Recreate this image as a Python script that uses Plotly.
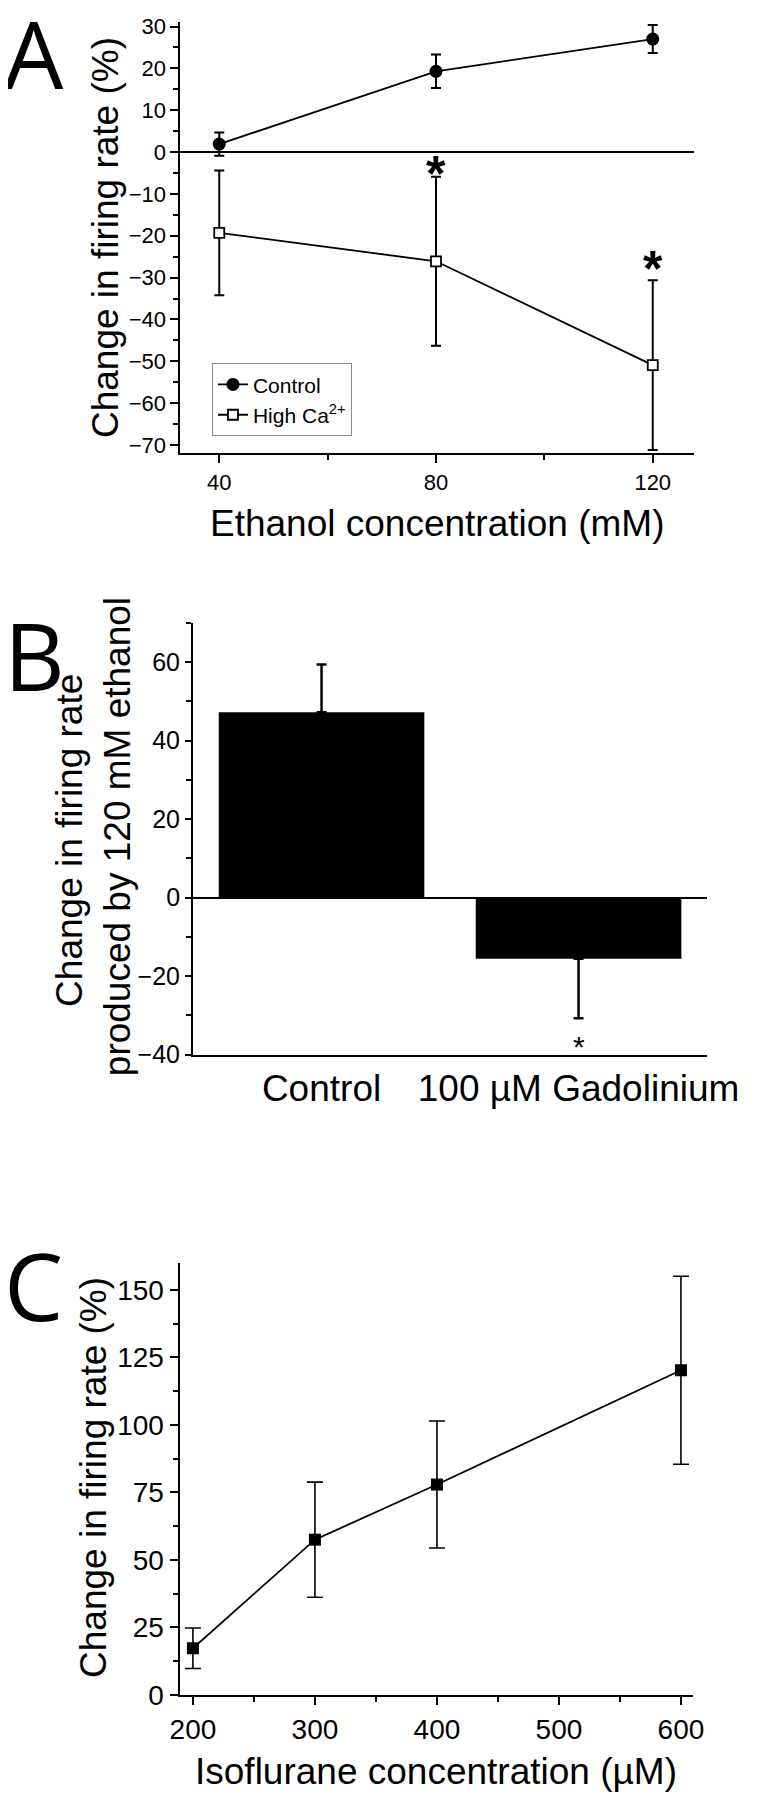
import plotly.graph_objects as go

# ---- Panel A: ethanol, control vs high Ca2+ ----
ethanol_mM = [40, 80, 120]
control_pct = [1.9, 19.3, 27.0]
control_err = [2.75, 4.0, 3.35]
highca_pct = [-19.3, -26.1, -50.9]
highca_err = [14.9, 20.2, 20.3]
star_a_x = [80, 120]
star_a_y = [-3.4, -26.1]

# ---- Panel B: 120 mM ethanol, gadolinium ----
groups = ["Control", "100 µM Gadolinium"]
gd_change = [47.2, -15.6]
gd_err_up = [12.2, 0]
gd_err_down = [0, 15.1]
star_b_y = -36.4

# ---- Panel C: isoflurane ----
iso_uM = [200, 300, 400, 600]
iso_pct = [17.3, 57.5, 77.9, 120.2]
iso_err = [7.5, 21.3, 23.5, 34.8]

FONT = "Liberation Sans, Arial, sans-serif"
W, H = 761, 1800

fig = go.Figure()

# A
fig.add_trace(go.Scatter(
    x=ethanol_mM, y=control_pct, name="Control", mode="lines+markers",
    line=dict(color="black", width=1.8),
    marker=dict(symbol="circle", size=13, color="black"),
    error_y=dict(type="data", array=control_err, color="black", thickness=2, width=5),
    xaxis="x", yaxis="y"))
fig.add_trace(go.Scatter(
    x=ethanol_mM, y=highca_pct, name="High Ca<sup>2+</sup>", mode="lines+markers",
    line=dict(color="black", width=1.8),
    marker=dict(symbol="square", size=10, color="white", line=dict(color="black", width=1.8)),
    error_y=dict(type="data", array=highca_err, color="black", thickness=2, width=5),
    xaxis="x", yaxis="y"))

# B
fig.add_trace(go.Bar(
    x=groups, y=gd_change, width=0.8, marker=dict(color="black", line=dict(width=0)),
    error_y=dict(type="data", symmetric=False, array=gd_err_up, arrayminus=gd_err_down,
                 color="black", thickness=2.5, width=5),
    showlegend=False, xaxis="x2", yaxis="y2"))

# C
fig.add_trace(go.Scatter(
    x=iso_uM, y=iso_pct, mode="lines+markers",
    line=dict(color="black", width=1.8),
    marker=dict(symbol="square", size=12, color="black"),
    error_y=dict(type="data", array=iso_err, color="black", thickness=1.6, width=8),
    showlegend=False, xaxis="x3", yaxis="y3"))


def ax(**kw):
    d = dict(showline=True, linecolor="black", linewidth=2, ticks="outside",
             ticklen=8, tickwidth=2, tickcolor="black", showgrid=False,
             zeroline=False, color="black", ticklabeloverflow="allow")
    d.update(kw)
    return d


def px_x(a, b):
    return [a / W, b / W]


def px_y(top, bottom):
    return [1 - bottom / H, 1 - top / H]


minor_ticks = dict(ticklen=5, tickwidth=2, ticks="outside", tickcolor="black")

fig.update_layout(
    width=W, height=H, margin=dict(l=0, r=0, t=0, b=0),
    paper_bgcolor="white", plot_bgcolor="white",
    font=dict(family=FONT, color="black"),
    xaxis=ax(domain=px_x(171.7, 715), anchor="y", range=[32.84, 127.7],
             tickvals=[40, 80, 120], tickfont=dict(size=22),
             minor=dict(tickvals=[60, 100], **minor_ticks)),
    yaxis=ax(domain=px_y(6, 443.3), anchor="x", range=[-72, 31.1],
             dtick=10, tickfont=dict(size=22),
             zeroline=True, zerolinecolor="black", zerolinewidth=2,
             minor=dict(dtick=5, **minor_ticks)),
    xaxis2=ax(domain=px_x(185, 728.3), anchor="y2", type="category", range=[-0.5, 1.5],
              ticks="", tickfont=dict(size=37)),
    yaxis2=ax(domain=px_y(615, 1052.7), anchor="x2", range=[-40, 70],
              dtick=20, tickfont=dict(size=25), ticklen=6,
              zeroline=True, zerolinecolor="black", zerolinewidth=2,
              minor=dict(dtick=10, **minor_ticks)),
    xaxis3=ax(domain=px_x(170.7, 713.6), anchor="y3", range=[189, 610],
              dtick=100, tickfont=dict(size=28),
              minor=dict(dtick=50, **minor_ticks)),
    yaxis3=ax(domain=px_y(1263.6, 1701.7), anchor="x3", range=[0, 160],
              dtick=25, tickfont=dict(size=28),
              minor=dict(dtick=12.5, **minor_ticks)),
    legend=dict(x=205 / W, y=1 - 352 / H, xanchor="left", yanchor="top",
                bordercolor="#888888", borderwidth=1, bgcolor="white",
                font=dict(size=21, family=FONT), tracegroupgap=0),
)

annots = []
# panel letters
for letter, yc in [("A", 38), ("B", 648), ("C", 1286)]:
    annots.append(dict(text=letter, x=-16 / W, y=1 - yc / H, xref="paper", yref="paper",
                       xanchor="left", yanchor="middle", showarrow=False, borderpad=0,
                       font=dict(family="Open Sans", size=94, color="black")))
# axis titles
title_font = dict(family=FONT, size=37, color="black")
annots += [
    dict(text="Change in firing rate (%)", x=92 / W, y=1 - 225 / H, textangle=-90),
    dict(text="Ethanol concentration (mM)", x=443 / W, y=1 - 514 / H),
    dict(text="Change in firing rate", x=55 / W, y=1 - 836 / H, textangle=-90),
    dict(text="produced by 120 mM ethanol", x=106 / W, y=1 - 832 / H, textangle=-90),
    dict(text="Change in firing rate (%)", x=80 / W, y=1 - 1481 / H, textangle=-90),
    dict(text="Isoflurane concentration (µM)", x=442 / W, y=1 - 1779 / H),
]
for a in annots[3:]:
    a.update(xref="paper", yref="paper", xanchor="center", yanchor="middle",
             showarrow=False, font=title_font)
# significance stars
for sx, sy in zip(star_a_x, star_a_y):
    annots.append(dict(text="<b>*</b>", x=sx, y=sy, xref="x", yref="y", showarrow=False,
                       yanchor="middle", yshift=-8, font=dict(family=FONT, size=50, color="black")))
annots.append(dict(text="*", x=groups[1], y=star_b_y, xref="x2", yref="y2", showarrow=False,
                   yanchor="middle", yshift=-6, font=dict(family=FONT, size=30, color="black")))

fig.update_layout(annotations=annots)

fig.write_html("out.html")
